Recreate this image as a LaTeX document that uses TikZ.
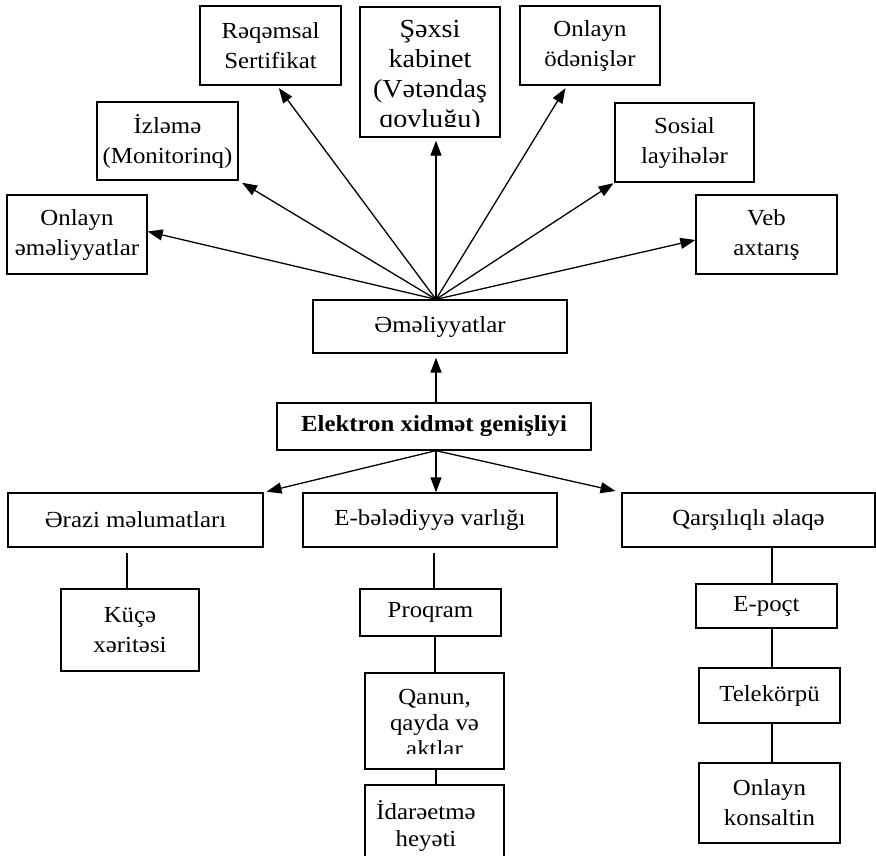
\documentclass[tikz,border=0pt]{standalone}
\usepackage{fontspec}
\setmainfont{Liberation Serif}[FakeStretch=1.08]
\usetikzlibrary{arrows.meta,calc}
\begin{document}
\begin{tikzpicture}[x=1pt,y=-1pt,
  box/.style={draw, line width=1.3pt, inner sep=0pt, align=center, font=\fontsize{23}{30}\selectfont},
  txt/.style={inner sep=0pt, align=center},
  arr/.style={line width=1.3pt, -{Triangle[length=15pt,width=11pt]}},
  ln/.style={line width=1.2pt}]
\fill[white] (0,0) rectangle (876,855);
\useasboundingbox (0,0) rectangle (876,855);
\clip (0,0) rectangle (876,855);

% top fan
\node[box, minimum width=141pt, minimum height=79pt] (rs) at (270.5,45.5) {Rəqəmsal\\Sertifikat};
\node[box, minimum width=140pt, minimum height=130pt] (sk) at (430,72) {};
\begin{scope}
  \clip (361,8) rectangle (499,126);
  \node[txt, anchor=north, font=\fontsize{26}{30}\selectfont] (sktext) at (430,20.5) {Şəxsi\\kabinet\\(Vətəndaş\\qovluğu)};
\end{scope}
\node[box, minimum width=140pt, minimum height=79pt] (od) at (590,45.5) {Onlayn\\ödənişlər};
\node[box, minimum width=141pt, minimum height=78pt] (iz) at (167.5,141) {İzləmə\\(Monitorinq)};
\node[box, minimum width=139pt, minimum height=79pt] (sl) at (684.5,142.5) {Sosial\\layihələr};
\node[box, minimum width=140pt, minimum height=79pt] (oe) at (77,234.5) {Onlayn\\əməliyyatlar};
\node[box, minimum width=141pt, minimum height=79pt] (va) at (766.5,234.5) {Veb\\axtarış};

% centre
\node[box, minimum width=254pt, minimum height=53pt] (em) at (440,326.5) {Əməliyyatlar};
\node[box, minimum width=314pt, minimum height=47pt, font=\fontsize{23}{30}\selectfont\bfseries] (el) at (434,426.5) {Elektron xidmət genişliyi};

% second level
\node[box, minimum width=255pt, minimum height=54pt] (er) at (135.5,520) {Ərazi məlumatları};
\node[box, minimum width=254pt, minimum height=54pt] (eb) at (430,520) {E-bələdiyyə varlığı};
\node[box, minimum width=253pt, minimum height=54pt] (qa) at (748.5,520) {Qarşılıqlı əlaqə};

% third level
\node[box, minimum width=138pt, minimum height=82pt] (kx) at (130,630) {Küçə\\xəritəsi};
\node[box, minimum width=141pt, minimum height=47pt] (pr) at (430.5,612.5) {Proqram};
\node[box, minimum width=139pt, minimum height=96pt] (qn) at (434.5,721) {};
\begin{scope}
  \clip (366,674) rectangle (503,753);
  \node[txt, anchor=north, font=\fontsize{23}{26}\selectfont] (qntext) at (434.5,688.8) {Qanun,\\qayda və\\aktlar};
\end{scope}
\node[box, minimum width=139pt, minimum height=77pt] (ih) at (434.5,823.5) {};
\node[txt, anchor=north, font=\fontsize{23}{27}\selectfont] (ihtext) at (426,800) {İdarəetmə\\heyəti};
\node[box, minimum width=141pt, minimum height=44pt] (ep) at (766.5,606) {E-poçt};
\node[box, minimum width=141pt, minimum height=55pt] (tk) at (769.5,695.5) {Telekörpü};
\node[box, minimum width=141pt, minimum height=80pt] (ok) at (769.5,803) {Onlayn\\konsaltin};

% arrows of the fan
\coordinate (hub) at ([xshift=-4pt]em.north);
\draw[arr] (hub) -- ([yshift=3pt]oe.east);
\draw[arr, shorten >=4pt] (hub) -- (iz.south east);
\draw[arr, shorten >=3pt] (hub) -- ([xshift=6.5pt]rs.south);
\draw[arr, shorten >=3pt] (hub) -- ([xshift=6pt]sk.south);
\draw[arr, shorten >=3pt] (hub) -- ([xshift=-23pt]od.south);
\draw[arr, shorten >=1pt] (hub) -- (sl.south west);
\draw[arr] (hub) -- ([yshift=-5.5pt]va.west);

% centre arrows
\coordinate (hub2) at ([xshift=2pt]el.south);
\draw[arr, shorten >=4pt] ([xshift=2pt]el.north) -- ([xshift=-4pt]em.south);
\draw[arr, shorten >=3pt] (hub2) -- (er.north east);
\draw[arr] (hub2) -- (hub2 |- eb.north);
\draw[arr, shorten >=6pt] (hub2) -- (qa.north west);

% plain connectors
\draw[ln, shorten >=5pt] ([xshift=-3pt]kx.north) -- ([xshift=-3pt]kx.north |- er.south);
\draw[ln, shorten >=5pt] ([xshift=3.5pt]pr.north) -- ([xshift=3.5pt]pr.north |- eb.south);
\draw[ln] ([xshift=4.5pt]pr.south) -- ([xshift=4.5pt]pr.south |- qn.north);
\draw[ln] ([xshift=1.5pt]qn.south) -- ([xshift=1.5pt]qn.south |- ih.north);
\draw[ln] ([xshift=5.5pt]ep.north) -- ([xshift=5.5pt]ep.north |- qa.south);
\draw[ln] ([xshift=5.5pt]ep.south) -- ([xshift=5.5pt]ep.south |- tk.north);
\draw[ln] ([xshift=2.5pt]tk.south) -- ([xshift=2.5pt]tk.south |- ok.north);
\end{tikzpicture}
\end{document}
